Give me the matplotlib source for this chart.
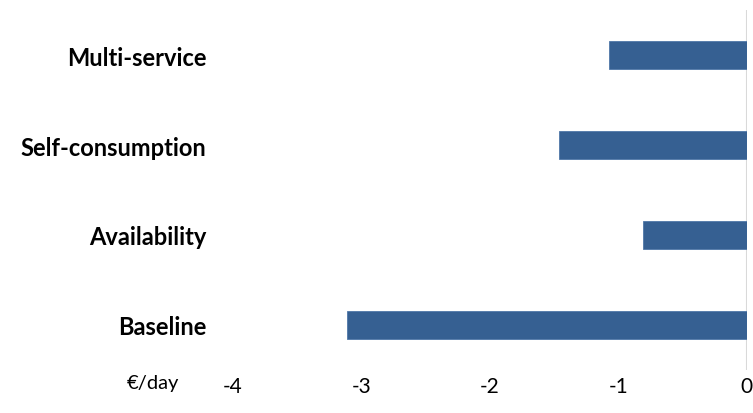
import matplotlib
matplotlib.use("Agg")
import matplotlib.pyplot as plt

# Daily cost per operating strategy
categories = ["Baseline", "Availability", "Self-consumption", "Multi-service"]
values = [-3.11, -0.81, -1.46, -1.07]
xticks = [-4, -3, -2, -1, 0]
unit_label = "€/day"

plt.rcParams["font.family"] = ["Lato", "DejaVu Sans"]

fig = plt.figure(figsize=(7.53, 4.14), dpi=100)
ax = fig.add_axes([0.3094, 0.1039, 0.9914 - 0.3094, 0.9734 - 0.1039])

ypos = list(range(len(categories)))
ax.barh(ypos, values, height=0.31, color="#366092", edgecolor="#4f78a8", linewidth=0.6, zorder=2)

ax.set_xlim(-4, 0)
ax.set_ylim(-0.5, len(categories) - 0.5)
ax.axvline(0, color="#d9d9d9", linewidth=1.5, zorder=1)

for s in ax.spines.values():
    s.set_visible(False)

ax.set_yticks(ypos)
ax.set_yticklabels(categories, fontsize=17, fontweight="bold", color="black")
ax.tick_params(axis="y", length=0, pad=19)

ax.set_xticks(xticks)
ax.set_xticklabels([str(t) for t in xticks], fontsize=15, color="black")
ax.tick_params(axis="x", length=0, pad=4)

ax.text(-0.155, -0.012, unit_label, transform=ax.transAxes, ha="center", va="top",
        fontsize=14.5, color="black")

fig.savefig("out.png", dpi=100, facecolor="white")
